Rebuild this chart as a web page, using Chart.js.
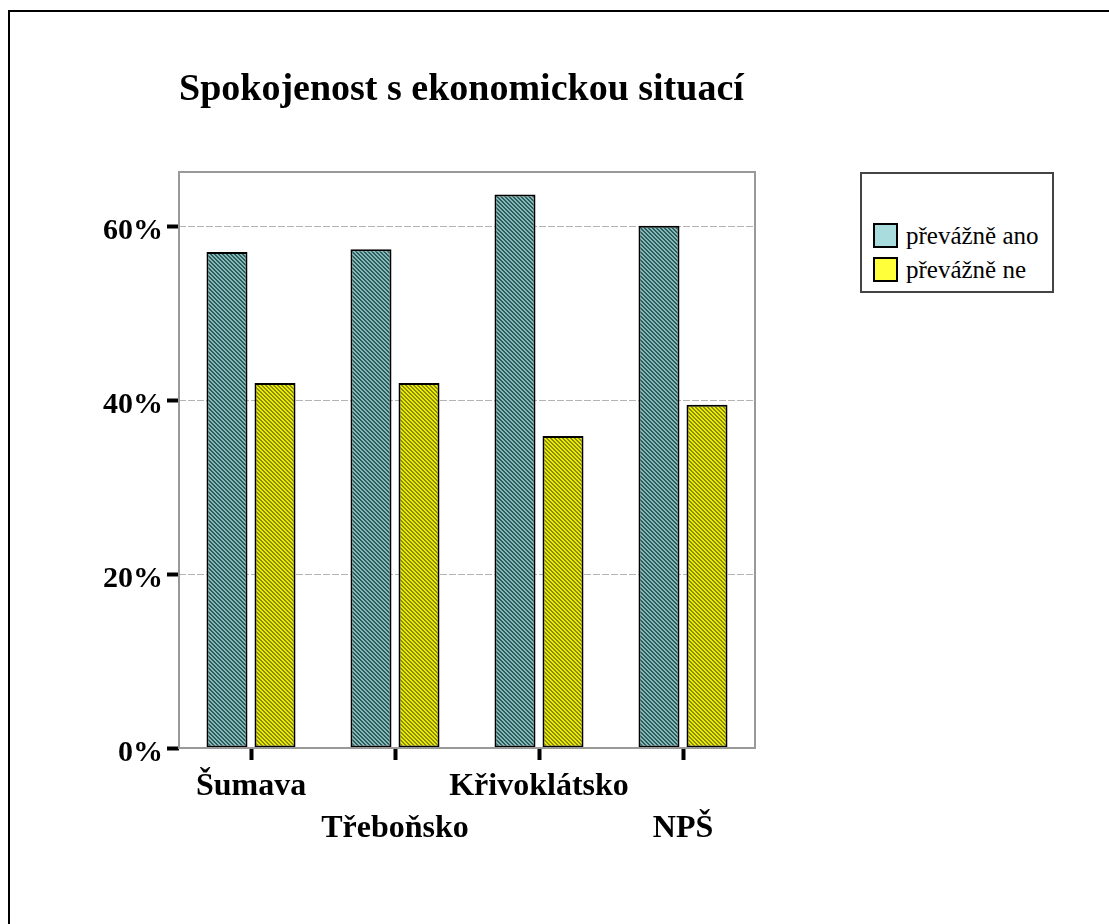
<!DOCTYPE html>
<html lang="cs">
<head>
    <meta charset="UTF-8">
    <title>Spokojenost s ekonomickou situací</title>
    <script src="https://cdn.jsdelivr.net/npm/chart.js"></script>
    <style>
        html, body { margin: 0; padding: 0; background: #fff; }
        body { width: 1109px; height: 924px; position: relative; overflow: hidden;
               font-family: 'Liberation Serif', 'Times New Roman', serif; }
        #frame { position: absolute; left: 8px; top: 10px; width: 1110px; height: 930px;
                 border-left: 2px solid #000; border-top: 2px solid #000; box-sizing: border-box; }
        #wrap { position: absolute; left: 0; top: 0; width: 1109px; height: 924px; }
        #legend { position: absolute; left: 860px; top: 172px; width: 194px; height: 121px;
                  border: 2px solid #444; box-sizing: border-box; background: #fff; }
        .item { position: absolute; left: 11px; height: 25px; font-size: 25px; line-height: 25px; white-space: nowrap; }
        .sw { display: inline-block; width: 21px; height: 21px; border: 2px solid #000;
              vertical-align: top; margin-right: 8px; }
    </style>
</head>
<body>
    <div id="frame"></div>
    <div id="wrap"><canvas id="chart" width="1109" height="924"></canvas></div>
    <div id="legend"></div>

    <script>
        // data
        const title = 'Spokojenost s ekonomickou situací';
        const regions = ['Šumava', 'Třeboňsko', 'Křivoklátsko', 'NPŠ'];
        const seriesNames = ['převážně ano', 'převážně ne'];
        const anoValues = [57.1, 57.4, 63.7, 60.1];
        const neValues = [42.0, 42.0, 35.9, 39.5];
        const yTicks = [0, 20, 40, 60];

        const serif = "'Liberation Serif', 'Times New Roman', serif";

        function makePattern(base, dark) {
            const c = document.createElement('canvas');
            c.width = 4; c.height = 4;
            const x = c.getContext('2d');
            x.fillStyle = base;
            x.fillRect(0, 0, 4, 4);
            x.fillStyle = dark;
            for (let i = 0; i < 4; i++) {
                x.fillRect(i, i, 1, 1);
                x.fillRect((i + 1) % 4, i, 1, 1);
            }
            return x.createPattern(c, 'repeat');
        }

        const tealFill = makePattern('#84b9b9', '#2f5d5d');
        const yellowFill = makePattern('#ecec00', '#8c8c00');

        // legend (html box on the right)
        const swatches = ['#a9dcdc', '#ffff3a'];
        const legend = document.getElementById('legend');
        seriesNames.forEach((name, i) => {
            const d = document.createElement('div');
            d.className = 'item';
            d.style.top = (49 + i * 34) + 'px';
            d.innerHTML = `<span class="sw" style="background:${swatches[i]}"></span>${name}`;
            legend.appendChild(d);
        });

        // grey frame round the plot area
        const plotFrame = {
            id: 'plotFrame',
            afterDatasetsDraw(chart) {
                const a = chart.chartArea, ctx = chart.ctx;
                ctx.save();
                ctx.strokeStyle = '#999';
                ctx.lineWidth = 2;
                ctx.strokeRect(a.left, a.top, a.right - a.left, a.bottom - a.top);
                ctx.restore();
            }
        };

        new Chart(document.getElementById('chart'), {
            type: 'bar',
            data: {
                labels: regions.map((r, i) => i % 2 ? ['', r] : [r, '']),
                datasets: [{
                    label: seriesNames[0],
                    data: anoValues,
                    backgroundColor: tealFill,
                    borderColor: '#000',
                    borderWidth: 2,
                    borderSkipped: false
                }, {
                    label: seriesNames[1],
                    data: neValues,
                    backgroundColor: yellowFill,
                    borderColor: '#000',
                    borderWidth: 2,
                    borderSkipped: false
                }]
            },
            options: {
                responsive: false,
                animation: false,
                categoryPercentage: 0.667,
                barPercentage: 0.854,
                layout: { padding: { left: 0, right: 354, top: 0, bottom: 0 } },
                plugins: {
                    legend: { display: false },
                    tooltip: { enabled: false },
                    title: {
                        display: true,
                        text: title,
                        align: 'start',
                        fullSize: false,
                        color: '#000',
                        font: { family: serif, size: 38, weight: 'bold', lineHeight: 1.2 },
                        padding: { top: 67.6, bottom: 58.8 }
                    }
                },
                scales: {
                    x: {
                        afterFit: s => { s.height = 176; },
                        grid: {
                            offset: false,
                            drawOnChartArea: false,
                            tickLength: 12,
                            tickColor: '#000',
                            tickWidth: 4
                        },
                        border: { display: false },
                        ticks: {
                            color: '#000',
                            padding: 6,
                            maxRotation: 0,
                            autoSkip: false,
                            font: { family: serif, size: 32, weight: 'bold', lineHeight: 1.3 }
                        }
                    },
                    y: {
                        min: 0,
                        max: 66.3,
                        afterFit: s => { s.width = 179; },
                        afterBuildTicks: s => { s.ticks = yTicks.map(v => ({ value: v })); },
                        grid: {
                            color: '#b4b4b4',
                            lineWidth: 1,
                            tickLength: 12,
                            tickColor: '#000',
                            tickWidth: 4,
                            tickBorderDash: []
                        },
                        border: { display: false, dash: [7, 2] },
                        ticks: {
                            color: '#000',
                            padding: 4,
                            labelOffset: 5,
                            callback: v => v + '%',
                            font: { family: serif, size: 30, weight: 'bold' }
                        }
                    }
                }
            },
            plugins: [plotFrame]
        });
    </script>
</body>
</html>
